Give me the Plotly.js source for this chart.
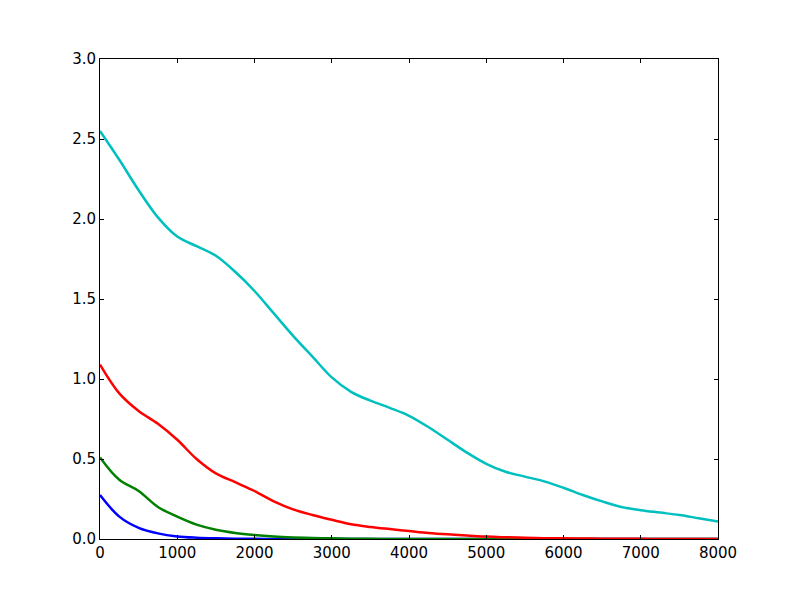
<!DOCTYPE html>
<html>
<head>
<meta charset="utf-8">
<script src="https://cdn.plot.ly/plotly-3.0.1.min.js"></script>
<style>
  body { margin: 0; background: #fff; }
  #chart { width: 800px; height: 600px; }
</style>
</head>
<body>
<div id="chart"></div>
<script>
// x positions shared by all series
const xValues = [0, 250, 500, 750, 1000, 1250, 1500, 1750, 2000, 2250, 2500, 2750,
  3000, 3250, 3500, 3750, 4000, 4250, 4500, 4750, 5000, 5250, 5500, 5750,
  6000, 6250, 6500, 6750, 7000, 7250, 7500, 7750, 8000];

// series values
const blueValues = [0.275, 0.14, 0.07, 0.035, 0.016, 0.008, 0.004, 0.002, 0.001, 0, 0, 0,
  0, 0, 0, 0, 0, 0, 0, 0, 0, 0, 0, 0, 0, 0, 0, 0, 0, 0, 0, 0, 0];
const greenValues = [0.51, 0.37, 0.30, 0.20, 0.14, 0.09, 0.058, 0.038, 0.025, 0.016, 0.01, 0.006,
  0.004, 0.002, 0.001, 0, 0, 0, 0, 0, 0, 0, 0, 0, 0, 0, 0, 0, 0, 0, 0, 0, 0];
const redValues = [1.09, 0.91, 0.80, 0.72, 0.62, 0.50, 0.41, 0.355, 0.30, 0.235, 0.185, 0.15,
  0.12, 0.092, 0.075, 0.062, 0.05, 0.038, 0.029, 0.022, 0.015, 0.011, 0.008, 0.005,
  0.004, 0.003, 0.002, 0.001, 0.001, 0, 0, 0, 0];
const cyanValues = [2.55, 2.37, 2.18, 2.01, 1.89, 1.83, 1.77, 1.67, 1.55, 1.41, 1.27, 1.14,
  1.01, 0.92, 0.865, 0.82, 0.77, 0.70, 0.62, 0.54, 0.47, 0.42, 0.39, 0.36,
  0.32, 0.275, 0.235, 0.20, 0.18, 0.165, 0.15, 0.13, 0.11];

const xTicks = [0, 1000, 2000, 3000, 4000, 5000, 6000, 7000, 8000];
const yTicks = [0, 0.5, 1.0, 1.5, 2.0, 2.5, 3.0];

function makeLine(y, color) {
  return {
    x: xValues,
    y: y,
    mode: 'lines',
    line: { color: color, width: 2.5, shape: 'spline', smoothing: 1 },
    hoverinfo: 'skip'
  };
}

const data = [
  makeLine(blueValues, '#0000ff'),
  makeLine(greenValues, '#008000'),
  makeLine(redValues, '#ff0000'),
  makeLine(cyanValues, '#00bfbf')
];

const axisCommon = {
  showgrid: false,
  zeroline: false,
  showline: true,
  linecolor: '#000',
  linewidth: 1,
  mirror: 'ticks',
  ticks: 'inside',
  ticklen: 4,
  tickcolor: '#000',
  tickfont: { family: 'DejaVu Sans', size: 15, color: '#000' }
};

const layout = {
  width: 800,
  height: 600,
  showlegend: false,
  paper_bgcolor: '#fff',
  plot_bgcolor: '#fff',
  margin: { l: 100, r: 82, t: 59, b: 61 },
  xaxis: Object.assign({}, axisCommon, {
    range: [0, 8000],
    tickvals: xTicks,
    ticktext: xTicks.map(v => String(v))
  }),
  yaxis: Object.assign({}, axisCommon, {
    range: [0, 3.0],
    tickvals: yTicks,
    ticktext: yTicks.map(v => v.toFixed(1))
  })
};

Plotly.newPlot('chart', data, layout, { staticPlot: true });
</script>
</body>
</html>
